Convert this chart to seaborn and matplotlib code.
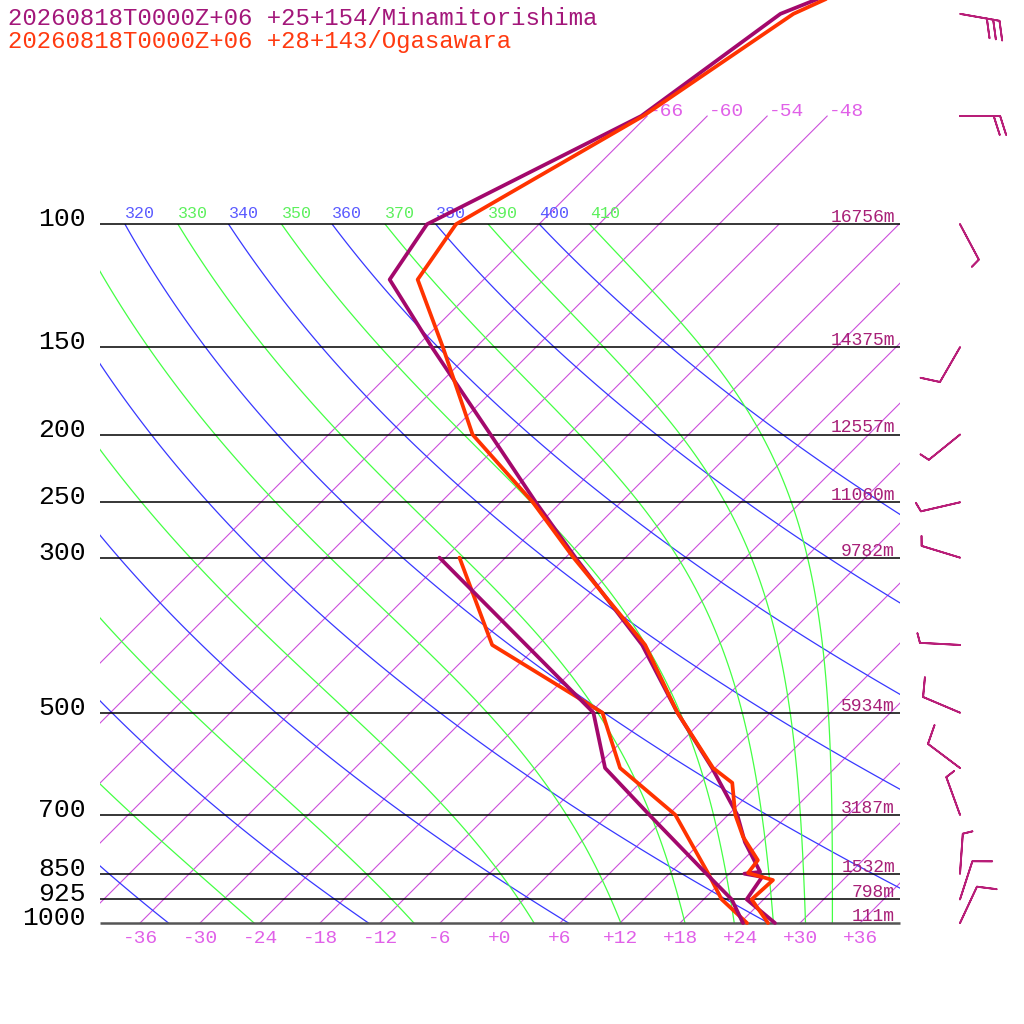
import numpy as np
import matplotlib
matplotlib.use("Agg")
import matplotlib.pyplot as plt
from matplotlib.patches import Rectangle
from matplotlib.transforms import Bbox, TransformedBbox
import seaborn as sns

TITLE_1 = "20260818T0000Z+06 +25+154/Minamitorishima"
TITLE_2 = "20260818T0000Z+06 +28+143/Ogasawara"

# Minamitorishima (hPa, degC)
mina_p = [1000, 925, 859, 850, 845, 766, 700, 600, 500, 400, 300, 250, 200, 150, 120, 100, 70, 50, 40]
mina_t = [27.5, 22.3, 21.6, 19.5, 20.9, 16.4, 12.9, 5.7, -3.3, -13.6, -29.0, -38.5, -49.8, -64.4, -75.4, -77.2, -66.6, -62.9, -52.7]
mina_td_p = [1000, 925, 850, 700, 600, 500, 400, 300]
mina_td = [24.3, 20.8, 15.7, 4.1, -5.0, -11.7, -25.2, -42.6]

# Ogasawara (hPa, degC)
oga_p = [1000, 925, 868, 848, 813, 753, 700, 630, 600, 500, 400, 300, 250, 200, 150, 120, 100, 70, 50, 40]
oga_t = [26.8, 22.8, 23.0, 19.8, 19.5, 15.7, 12.7, 9.2, 5.8, -3.3, -13.3, -29.2, -38.8, -51.6, -63.3, -72.6, -74.3, -66.4, -61.6, -53.5]
oga_td_p = [1000, 925, 850, 700, 600, 500, 400, 300]
oga_td = [24.7, 19.8, 15.9, 6.7, -3.5, -10.8, -28.6, -40.6]

# Minamitorishima winds (direction deg, speed kt)
wind_p = [1000, 925, 850, 700, 600, 500, 400, 300, 250, 200, 150, 100, 70, 50]
wind_dir = [25, 18, 4, 340, 307, 293, 273, 287, 257, 231, 210, 152, 90, 100]
wind_kt = [10, 10, 5, 5, 10, 10, 5, 5, 5, 5, 10, 5, 20, 30]

levels = [1000, 925, 850, 700, 500, 300, 250, 200, 150, 100]
level_labels = ["1000", "925", "850", "700", "500", "300", "250", "200", "150", "100"]
heights = ["111m", "798m", "1532m", "3187m", "5934m", "9782m", "11060m", "12557m", "14375m", "16756m"]

isotherms = list(range(-66, 37, 6))
isotherms_top = [-66, -60, -54, -48]
temp_ticks = list(range(-36, 37, 6))
dry_thetas = list(range(240, 401, 20))
moist_thetas = list(range(250, 411, 20))

PURPLE = "#a3086c"
RED = "#ff3300"
K = 69.9          # skew, x units per decade of pressure
P_BOTTOM = 1394.7
P_TOP = 47.77


def skew(t, p):
    return np.asarray(t, float) + K * np.log10(1000.0 / np.asarray(p, float))


def moistT(theta_e, p):
    tk = np.linspace(150, 330, 1500)
    tc = tk - 273.15
    es = 6.112 * np.exp(17.67 * tc / (tc + 243.5))
    out = []
    for pp in p:
        ok = es < 0.3 * pp
        r = 622 * es[ok] / (pp - es[ok])
        th = tk[ok] * (1000 / pp) ** (0.2854 * (1 - 0.28e-3 * r)) * \
            np.exp((3.376 / tk[ok] - 0.00254) * r * (1 + 0.81e-3 * r))
        out.append(np.interp(theta_e, th, tk[ok]) - 273.15)
    return np.array(out)


def thetaLabel(ax, th, t100, color, clipbb):
    x = skew(t100, 100)
    if x < -40:
        return
    a = ax.annotate(str(th), xy=(x, 100), xytext=(0, 4.3), textcoords='offset points',
                    ha='left', va='baseline', fontsize=12, color=color)
    a.set_clip_box(clipbb)


sns.set_theme(style="white")
plt.rcParams['font.family'] = ['Liberation Mono', 'DejaVu Sans Mono']

fig = plt.figure(figsize=(10.24, 10.24), dpi=100)
ax = fig.add_axes([0, 0, 1, 1])
ax.set_yscale('log')
ax.set_xlim(-50, 52.4)
ax.set_ylim(P_BOTTOM, P_TOP)
ax.axis('off')

box = Rectangle((-40, 100), 80, 900, transform=ax.transData, fill=False, visible=False)
ax.add_patch(box)
tbox = Rectangle((-40, 60), 80, 940, transform=ax.transData, fill=False, visible=False)
ax.add_patch(tbox)
clipbb = TransformedBbox(Bbox.from_extents(-40, P_TOP, 40, 1000), ax.transData)

pgrid = np.logspace(3, 2, 120)
ptop = np.logspace(3, np.log10(70), 140)

# isotherms
for t in isotherms:
    pp = ptop if t in isotherms_top else pgrid
    ln, = ax.plot(skew(np.full(len(pp), t), pp), pp, color="#cc4fdc", lw=0.8, zorder=1)
    ln.set_clip_path(tbox)
for t in isotherms_top:
    ax.annotate("%+d" % t, xy=(skew(t, 70), 70), xytext=(1.5, 0), textcoords='offset points',
                ha='left', va='baseline', fontsize=14, color="#e060e8")
for t in temp_ticks:
    ax.annotate("%+d" % t, xy=(t, 1000), xytext=(0, -14.4), textcoords='offset points',
                ha='center', va='baseline', fontsize=14, color="#e060e8")

# dry adiabats
for th in dry_thetas:
    tt = th * (pgrid / 1000.0) ** 0.2857 - 273.15
    ln, = ax.plot(skew(tt, pgrid), pgrid, color="#3838ff", lw=0.9, zorder=1)
    ln.set_clip_path(box)
    thetaLabel(ax, th, tt[-1], "#5a5aff", clipbb)

# moist adiabats
for th in moist_thetas:
    tt = moistT(th, pgrid)
    ln, = ax.plot(skew(tt, pgrid), pgrid, color="#44ff44", lw=0.9, zorder=1)
    ln.set_clip_path(box)
    thetaLabel(ax, th, tt[-1], "#5cf05c", clipbb)

# isobars
for p, lab, h in zip(levels, level_labels, heights):
    ax.hlines(p, -40, 40, color="#555555" if p == 1000 else "black",
              lw=1.8 if p == 1000 else 1.1, zorder=2)
    ax.annotate(lab, xy=(-41.4, p), xytext=(0, -1.5), textcoords='offset points',
                ha='right', va='baseline', fontsize=19, color="black")
    ax.annotate(h, xy=(39.5, p), xytext=(0, 1.5), textcoords='offset points',
                ha='right', va='baseline', fontsize=13, color="#a82078")

# soundings
sns.lineplot(x=skew(oga_td, oga_td_p), y=oga_td_p, sort=False, estimator=None, color=RED, lw=2.7, ax=ax, zorder=5)
sns.lineplot(x=skew(mina_td, mina_td_p), y=mina_td_p, sort=False, estimator=None, color=PURPLE, lw=2.7, ax=ax, zorder=5)
sns.lineplot(x=skew(mina_t, mina_p), y=mina_p, sort=False, estimator=None, color=PURPLE, lw=2.7, ax=ax, zorder=5)
sns.lineplot(x=skew(oga_t, oga_p), y=oga_p, sort=False, estimator=None, color=RED, lw=2.7, ax=ax, zorder=6)

# wind barbs
wd = np.radians(wind_dir)
spd = np.array(wind_kt, float)
u = -spd * np.sin(wd)
v = -spd * np.cos(wd)
wx = np.full(len(wind_p), 46.0)
wp = np.array(wind_p, float)
lone = spd < 10
ax.barbs(wx[~lone], wp[~lone], u[~lone], v[~lone], length=7.6, color="#b81e78", linewidth=1.3,
         sizes=dict(spacing=0.16, height=0.47, width=0.3), zorder=7)
ax.barbs(wx[lone], wp[lone], u[lone], v[lone], length=7.6, color="#b81e78", linewidth=1.3,
         sizes=dict(spacing=0.0, height=0.47, width=0.3), zorder=7)

ax.set_xlim(-50, 52.4)
ax.set_ylim(P_BOTTOM, P_TOP)

fig.text(8 / 1024, 1 - 25 / 1024, TITLE_1, fontsize=17.3, color="#a3177a", va='baseline', ha='left')
fig.text(8 / 1024, 1 - 48 / 1024, TITLE_2, fontsize=17.3, color="#ff3a10", va='baseline', ha='left')

fig.savefig("out.png", dpi=100)
